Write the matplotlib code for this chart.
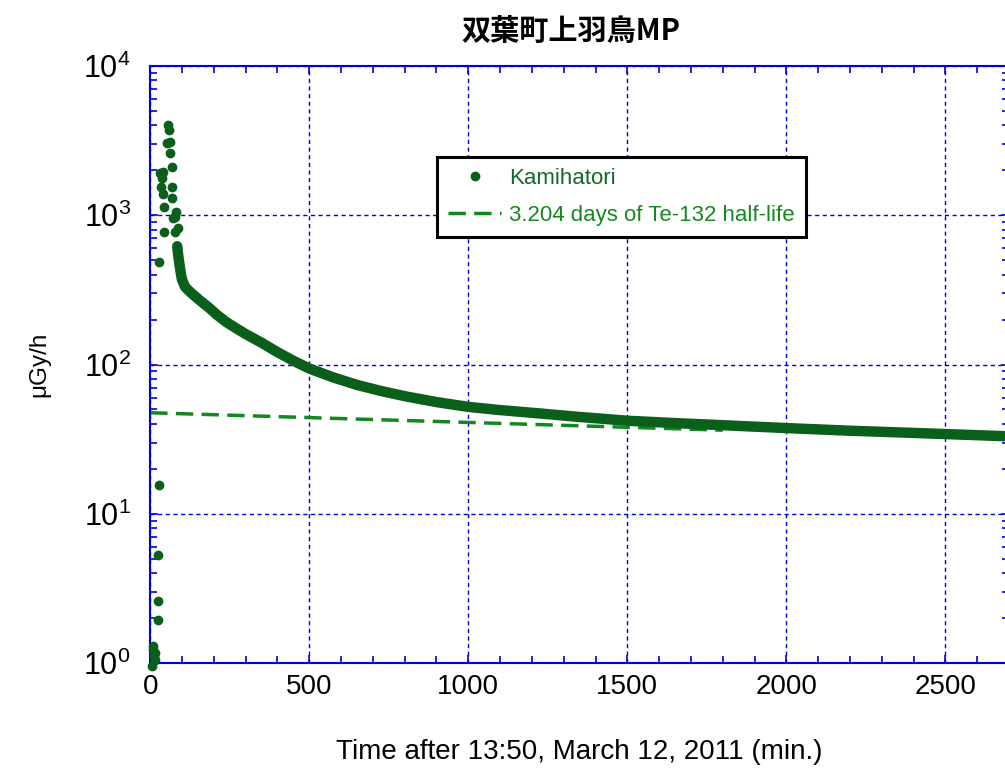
import matplotlib
matplotlib.use("Agg")
import matplotlib.pyplot as plt
from matplotlib.ticker import MultipleLocator, LogLocator, NullFormatter

plt.rcParams['font.family'] = ['Liberation Sans', 'Noto Sans CJK JP', 'DejaVu Sans']
plt.rcParams['mathtext.default'] = 'regular'

# early spike (min, uGy/h)
spike_t = [5, 8, 10, 12, 15, 15, 25, 25, 25, 29, 29, 31, 33, 36, 41, 41, 43, 43,
           52, 57, 59, 62, 62, 68, 68, 68, 73, 78, 78, 81, 88]
spike_v = [0.96, 1.22, 1.3, 1.1, 1.17, 1.05, 1.94, 2.6, 5.3, 15.6, 486, 1920, 1550,
           1780, 1950, 1390, 1135, 773, 3050, 4025, 3725, 3100, 2610, 2100, 1550,
           1305, 960, 975, 773, 1050, 822]

# continuous decay after the spike
decay_t = [85, 88, 92, 96, 100, 110, 130, 157, 185, 210, 240, 270, 300, 350, 400,
           450, 500, 575, 650, 725, 806, 900, 1000, 1100, 1225, 1350, 1500, 1650,
           1800, 2000, 2200, 2400, 2600, 2700]
decay_v = [620, 540, 470, 410, 370, 330, 300, 268, 240, 215, 192, 175, 160, 140, 121,
           106, 94, 82, 73, 66.5, 61, 56, 52, 49.5, 47, 44.5, 42, 40.5,
           39.2, 37.5, 36, 34.8, 33.6, 33]

# Te-132 half-life reference line (3.204 d)
fit_t = [0, 1800]
fit_v = [47.5, 36.3]

dot_col = '#0a5f1a'
fit_col = '#12891f'
blue = '#0000dd'

fig = plt.figure(figsize=(10.05, 7.7), dpi=100)
ax = fig.add_axes([150.2 / 1005, 107 / 770, 858.8 / 1005, 597 / 770])

ax.plot(decay_t, decay_v, '-', color=dot_col, lw=7.5, solid_capstyle='round',
        solid_joinstyle='round', zorder=3)
ax.plot(spike_t, spike_v, 'o', color=dot_col, ms=6,
        label='Kamihatori', clip_on=False, zorder=3)
ax.plot(fit_t, fit_v, '--', color=fit_col, lw=2.5, dashes=(5, 2.4),
        label='3.204 days of Te-132 half-life', zorder=2)

ax.set_yscale('log')
ax.set_xlim(0, 2700)
ax.set_ylim(1, 1e4)
ax.xaxis.set_major_locator(MultipleLocator(500))
ax.xaxis.set_minor_locator(MultipleLocator(100))
ax.yaxis.set_minor_locator(LogLocator(base=10, subs=range(2, 10)))
ax.yaxis.set_minor_formatter(NullFormatter())

for s in ax.spines.values():
    s.set_color(blue)
    s.set_linewidth(1.5)
ax.tick_params(which='both', direction='in', top=True, right=True, color=blue,
               width=1.2, labelsize=20, labelcolor='black')
ax.tick_params(which='major', length=6, pad=8)
ax.tick_params(which='minor', length=5)
ax.tick_params(axis='y', which='major', labelsize=22, pad=14)
ax.grid(True, which='major', color=blue, ls=(0, (3, 2.5)), lw=1.0)

ax.set_xlabel('Time after 13:50, March 12, 2011 (min.)', fontsize=20, labelpad=28)
ax.set_ylabel('\u03bcGy/h', fontsize=17.5, labelpad=24)
ax.set_title('双葉町上羽鳥MP', fontsize=21, fontweight='bold',
             family=['Noto Sans CJK JP', 'DejaVu Sans'], pad=19, x=0.49)

leg = ax.legend(loc='upper left', bbox_to_anchor=(0.334, 0.8476), fontsize=16,
                fancybox=False, framealpha=1, edgecolor='black', borderpad=0.5,
                handlelength=2.4, handletextpad=0.35, labelspacing=0.72,
                borderaxespad=0)
leg.get_frame().set_linewidth(2.2)
leg.get_texts()[0].set_color('#13692a')
leg.get_texts()[1].set_color('#158a1e')

fig.savefig('out.png', dpi=100)
